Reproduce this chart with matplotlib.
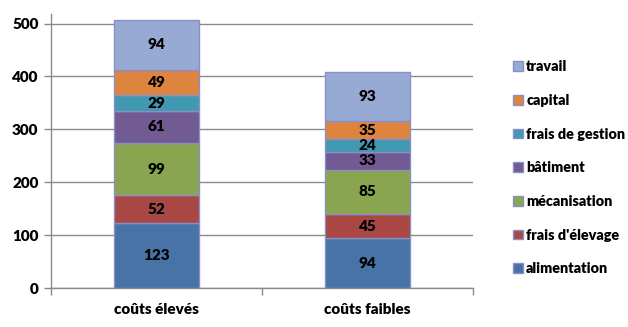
import matplotlib
matplotlib.use("Agg")
import matplotlib.pyplot as plt
import numpy as np

categories = ["coûts élevés", "coûts faibles"]
series_names = ["alimentation", "frais d'élevage", "mécanisation", "bâtiment",
                "frais de gestion", "capital", "travail"]
alimentation = [123, 94]
frais_elevage = [52, 45]
mecanisation = [99, 85]
batiment = [61, 33]
frais_gestion = [29, 24]
capital = [49, 35]
travail = [94, 93]
series_values = [alimentation, frais_elevage, mecanisation, batiment,
                 frais_gestion, capital, travail]
colors = ["#4873A6", "#A94744", "#8AA54F", "#725A93", "#4099B1", "#DD843E", "#97AAD3"]
yticks = [0, 100, 200, 300, 400, 500]

plt.rcParams['font.family'] = ['Lato', 'DejaVu Sans']
W = 'heavy'

fig = plt.figure(figsize=(6.28, 3.27), dpi=100)
ax = fig.add_axes([51/628, 1-288/327, (473-51)/628, (288-14)/327])

x = np.arange(len(categories))
bottom = np.zeros(len(categories))
handles = []
for name, vals, c in zip(series_names, series_values, colors):
    vals = np.array(vals, dtype=float)
    b = ax.bar(x, vals, width=0.40, bottom=bottom, color=c, edgecolor="#8C8FC4",
               linewidth=1.0, label=name, zorder=3)
    handles.append(b)
    for xi, v, bt in zip(x, vals, bottom):
        ax.text(xi, bt + v/2, f"{int(v)}", ha="center", va="center",
                fontsize=11, fontweight=W, color="black", zorder=4)
    bottom += vals

ax.set_xlim(-0.5, 1.5)
ax.set_ylim(0, 518)
ax.set_yticks(yticks)
ax.set_yticklabels([str(t) for t in yticks], fontsize=11, fontweight=W)
ax.yaxis.grid(True, color="#8A8A8A", linewidth=1.0, zorder=0)
ax.set_axisbelow(True)

ax.set_xticks(x)
ax.set_xticklabels(categories, fontsize=11, fontweight=W)
ax.tick_params(axis="x", length=0, pad=11)
ax.set_xticks([-0.5, 0.5, 1.5], minor=True)
ax.tick_params(axis="x", which="minor", length=5, color="#8A8A8A", width=1)
ax.tick_params(axis="y", length=5, color="#8A8A8A", width=1, pad=4)

for s in ["top", "right"]:
    ax.spines[s].set_visible(False)
for s in ["left", "bottom"]:
    ax.spines[s].set_color("#8A8A8A")
    ax.spines[s].set_linewidth(1.0)

leg = fig.legend(handles[::-1], series_names[::-1], loc="upper left",
                 bbox_to_anchor=(506/628, 1-53/327), frameon=False,
                 prop={'weight': W, 'size': 10.4},
                 handlelength=0.65, handleheight=0.65, handletextpad=0.25,
                 labelspacing=1.43, borderpad=0)

fig.savefig("out.png", dpi=100)
